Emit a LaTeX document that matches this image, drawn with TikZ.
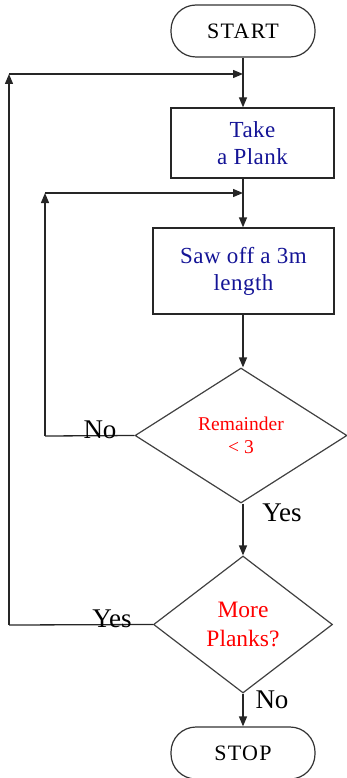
\documentclass[tikz,border=0pt]{standalone}
\usepackage{fontspec}
\setmainfont{Liberation Serif}
\usetikzlibrary{shapes.geometric,arrows.meta}
\definecolor{txtblue}{RGB}{20,20,150}
\definecolor{txtred}{RGB}{255,0,0}
\tikzset{
  ln/.style={line width=1.3pt,draw=black!85},
  arr/.style={ln,-{Triangle[length=10pt,width=8pt]}},
  term/.style={draw=black!80,line width=1.2pt,rectangle,rounded corners=25pt,minimum width=144pt,minimum height=52pt,inner sep=0pt,font=\fontsize{22}{24}\selectfont\addfontfeature{LetterSpace=6}},
  proc/.style={draw=black!85,line width=1.3pt,rectangle,inner sep=0pt,align=center,text=txtblue,font=\fontsize{23}{27}\selectfont\addfontfeature{LetterSpace=2}},
  dec/.style={draw=black!75,line width=1.2pt,diamond,aspect=1,inner sep=0pt,align=center,text=txtred},
  lbl/.style={inner sep=0pt,font=\fontsize{27}{30}\selectfont}
}
\begin{document}
\begin{tikzpicture}[x=1pt,y=-1pt]
\useasboundingbox (0,0) rectangle (347,778);
\node[term] (start) at (243,31) {START};
\node[proc,minimum width=163pt,minimum height=70pt] (take) at (252.5,143) {Take\\a Plank};
\node[proc,minimum width=181pt,minimum height=86pt] (saw) at (243.5,271) {Saw off a 3m\\length};
\node[dec,minimum width=212pt,minimum height=135pt,font=\fontsize{19.5}{23}\selectfont] (d1) at (241,435.5) {Remainder\\< 3};
\node[dec,minimum width=179pt,minimum height=137pt,font=\fontsize{23.5}{29}\selectfont] (d2) at (243,624.5) {More\\Planks?};
\node[term] (stop) at (243,753) {STOP};
\coordinate (j1) at (243,74);
\coordinate (j2) at (243,193);
\coordinate (c1) at (9,74);
\coordinate (c2) at (45,193);
\coordinate (b1) at (45,436);
\coordinate (b2) at (9,625);
% main flow
\draw[ln] (start.south) -- (j1);
\draw[arr] (j1) -- (j1 |- take.north);
\draw[ln] (j1 |- take.south) -- (j2);
\draw[arr] (j2) -- (j2 |- saw.north);
\draw[arr] (j2 |- saw.south) -- (j2 |- d1.north);
\draw[arr] (j2 |- d1.south) -- (d2.north);
\draw[arr] (d2.south) -- (stop.north);
% inner loop
\draw[ln] (d1.west) -- (b1);
\draw[arr] (b1) -- (c2);
\draw[arr] (c2) -- (j2);
% outer loop
\draw[ln] (d2.west) -- (b2);
\draw[arr] (b2) -- (c1);
\draw[arr] (c1) -- (j1);
% labels
\node[lbl,anchor=south] (lno1) at (100,439) {No};
\node[lbl] (lyes1) at (282,513) {Yes};
\node[lbl,anchor=south] (lyes2) at (112,628) {Yes};
\node[lbl] (lno2) at (272,700) {No};
\end{tikzpicture}
\end{document}
